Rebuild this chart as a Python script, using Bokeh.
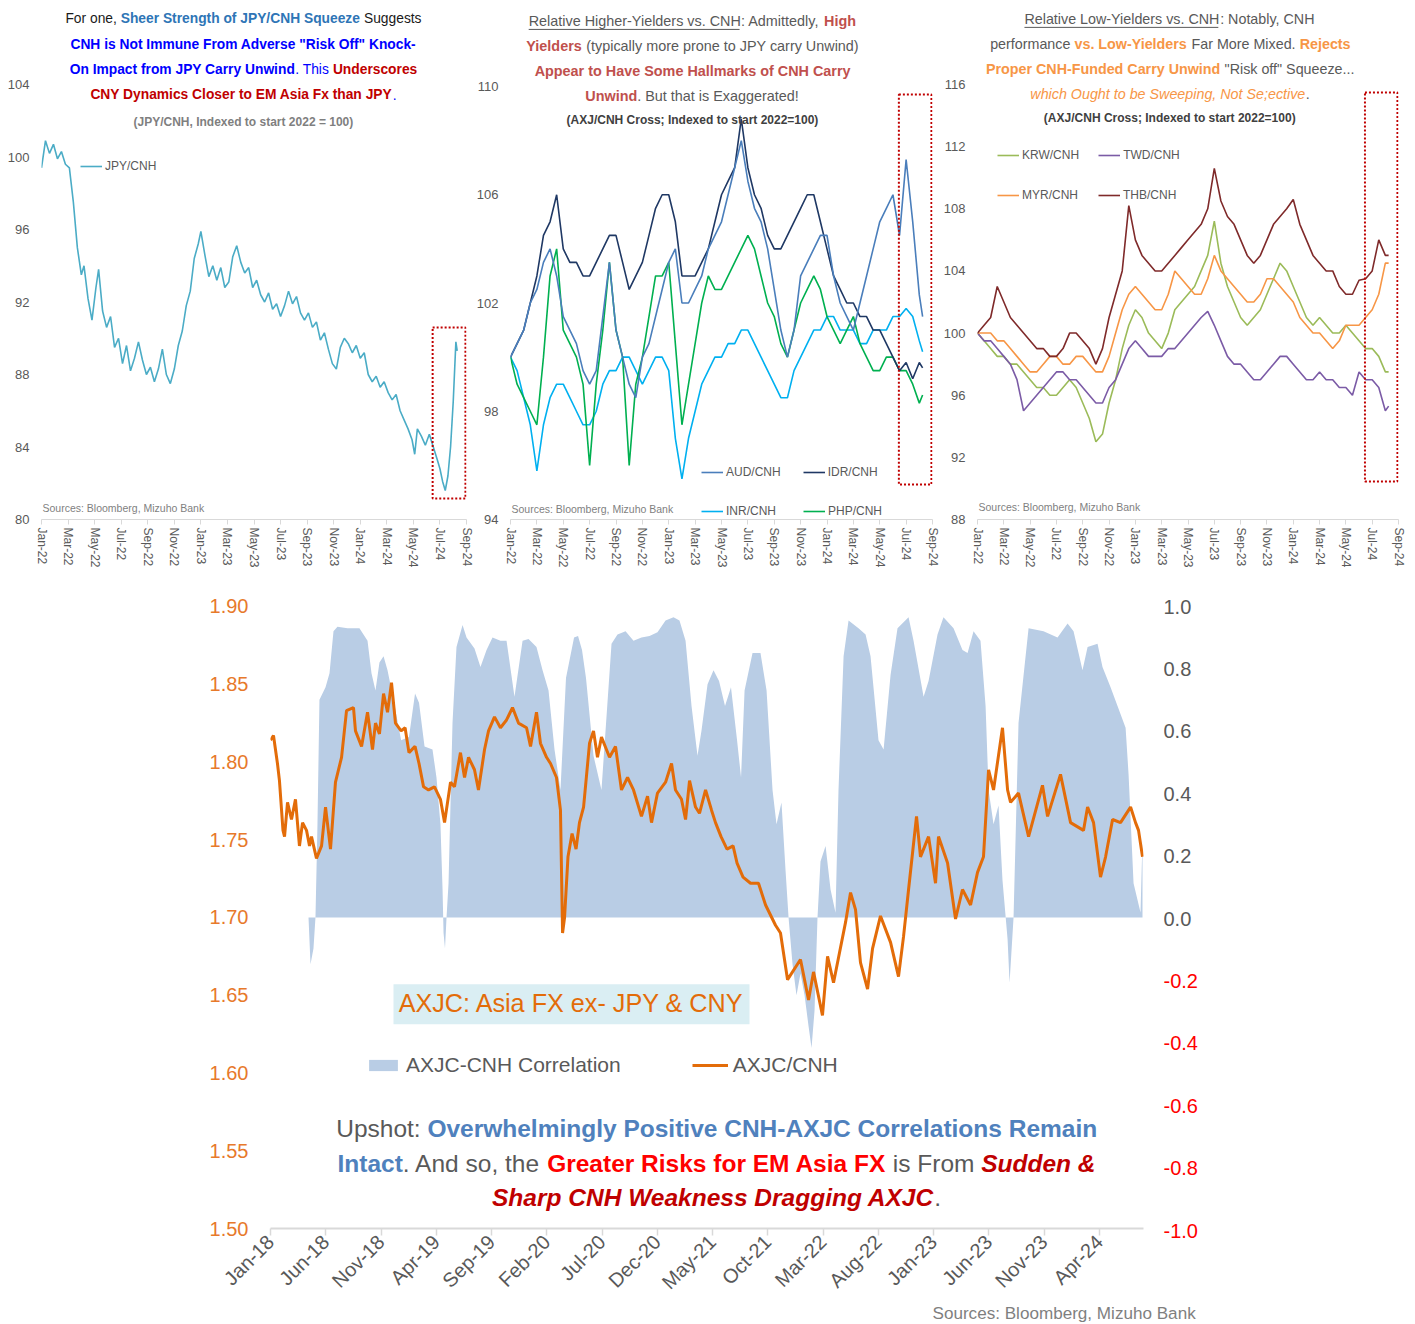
import math
from bokeh.plotting import figure
from bokeh.models import (Range1d, FixedTicker, Legend, LegendItem, BoxAnnotation,
                          Label, ColumnDataSource, NumeralTickFormatter)
from bokeh.layouts import row, column
from bokeh.embed import file_html
from bokeh.resources import INLINE
from bokeh.core.properties import value

FONT = "Liberation Sans"

# ---------------------------------------------------------------- data
top_month_labels = ["Jan-22", "Mar-22", "May-22", "Jul-22", "Sep-22", "Nov-22", "Jan-23", "Mar-23",
                    "May-23", "Jul-23", "Sep-23", "Nov-23", "Jan-24", "Mar-24", "May-24", "Jul-24", "Sep-24"]
bottom_month_labels = ["Jan-18", "Jun-18", "Nov-18", "Apr-19", "Sep-19", "Feb-20", "Jul-20", "Dec-20",
                       "May-21", "Oct-21", "Mar-22", "Aug-22", "Jan-23", "Jun-23", "Nov-23", "Apr-24"]

# months since Jan-2022
jpy_t = [0, 0.3, 0.6, 0.9, 1.2, 1.5, 1.8, 2.1, 2.4, 2.7, 3.0, 3.2, 3.5, 3.8, 4.1, 4.3, 4.6, 4.9, 5.2, 5.5,
         5.8, 6.1, 6.4, 6.7, 7.0, 7.3, 7.6, 7.9, 8.2, 8.5, 8.8, 9.1, 9.4, 9.7, 10.0, 10.3, 10.6, 10.9, 11.2,
         11.5, 11.8, 12.0, 12.3, 12.6, 12.9, 13.2, 13.5, 13.8, 14.1, 14.4, 14.7, 15.0, 15.3, 15.6, 15.9,
         16.2, 16.5, 16.8, 17.1, 17.4, 17.7, 18.0, 18.3, 18.6, 18.9, 19.2, 19.5, 19.8, 20.1, 20.4, 20.7,
         21.0, 21.3, 21.6, 21.9, 22.2, 22.5, 22.8, 23.1, 23.4, 23.7, 24.0, 24.3, 24.6, 24.9, 25.2, 25.5,
         25.8, 26.1, 26.4, 26.7, 27.0, 27.3, 27.6, 27.9, 28.1, 28.3, 28.6, 28.9, 29.2, 29.5, 29.8, 30.0,
         30.2, 30.4, 30.6, 30.8, 31.0, 31.2, 31.3]
jpy_v = [99.4, 100.9, 100.2, 100.7, 99.9, 100.3, 99.6, 99.4, 97.5, 95.0, 93.5, 94.0, 92.2, 91.0, 92.8, 93.8,
         91.5, 90.6, 91.2, 89.5, 90.0, 88.6, 89.6, 88.2, 88.9, 89.8, 88.8, 88.0, 88.4, 87.6, 88.3, 89.4,
         88.0, 87.5, 88.3, 89.6, 90.4, 91.8, 92.6, 94.4, 95.2, 95.9, 94.6, 93.4, 94.0, 93.2, 93.9, 92.8,
         93.1, 94.5, 95.1, 94.2, 93.6, 93.9, 92.8, 93.2, 92.4, 92.0, 92.5, 91.6, 91.9, 91.2, 91.8, 92.6,
         91.9, 92.3, 91.4, 91.0, 91.4, 90.6, 90.9, 89.9, 90.3, 89.4, 88.6, 88.3, 89.5, 90.0, 89.7, 89.2,
         89.6, 88.9, 89.2, 88.0, 87.6, 87.9, 87.3, 87.6, 87.0, 86.6, 86.9, 86.0, 85.5, 85.0, 84.4, 83.6,
         85.0, 84.6, 84.1, 84.7, 84.0, 83.3, 82.8, 82.1, 81.6, 82.4, 84.0, 86.5, 89.8, 89.3]

# half-monthly dates since Jan-2022 for the AXJ/CNH crosses
cross_t = [i / 2 for i in range(63)] + [31.25]
aud_v = [100.0, 100.5, 101.0, 102.0, 102.5, 103.5, 104.0, 103.0, 101.5, 101.0,
         100.5, 99.5, 99.0, 99.5, 101.5, 103.5, 101.0, 100.0, 99.0, 98.5,
         100.0, 100.5, 101.5, 102.5, 103.5, 104.0, 102.0, 102.0, 102.5, 103.0,
         104.0, 104.5, 105.0, 106.0, 107.0, 108.0, 106.5, 105.5, 105.0, 104.0,
         102.5, 101.0, 100.0, 101.0, 103.0, 103.5, 104.0, 104.5, 104.5, 103.0,
         102.0, 101.5, 101.0, 102.0, 103.0, 104.0, 105.0, 105.5, 106.0, 104.5,
         107.3, 105.0, 102.3, 101.5]
idr_v = [100.0, 100.5, 101.0, 102.0, 103.0, 104.5, 105.0, 106.0, 104.0, 103.5,
         103.5, 103.0, 103.0, 103.5, 104.0, 104.5, 104.5, 103.5, 102.5, 103.0,
         103.5, 104.5, 105.5, 106.0, 106.0, 105.0, 103.0, 103.0, 103.0, 103.5,
         104.0, 105.0, 106.0, 106.5, 107.0, 108.8, 107.0, 106.0, 105.5, 104.5,
         104.0, 104.0, 104.5, 105.0, 105.5, 106.0, 106.0, 105.0, 104.0, 103.0,
         102.5, 102.0, 102.0, 101.5, 101.5, 101.0, 101.0, 100.5, 100.0, 99.5,
         99.8, 99.2, 99.8, 99.6]
inr_v = [100.0, 99.5, 98.5, 97.5, 95.8, 97.5, 98.5, 99.0, 99.0, 98.5,
         98.0, 97.5, 97.5, 98.0, 99.0, 99.5, 99.5, 100.0, 100.0, 99.5,
         99.0, 99.5, 100.0, 100.0, 99.5, 97.0, 95.5, 97.0, 98.0, 99.0,
         99.5, 100.0, 100.0, 100.5, 100.5, 101.0, 101.0, 100.5, 100.0, 99.5,
         99.0, 98.5, 98.5, 99.5, 100.0, 100.5, 101.0, 101.0, 101.5, 101.5,
         101.0, 101.0, 101.0, 100.5, 100.5, 101.0, 101.0, 101.0, 101.5, 101.5,
         101.8, 101.5, 100.6, 100.2]
php_v = [100.0, 99.0, 98.5, 98.0, 97.5, 100.0, 103.0, 104.0, 101.0, 100.5,
         100.0, 99.0, 96.0, 99.0, 101.0, 103.5, 101.0, 100.0, 96.0, 99.0,
         100.0, 101.5, 103.0, 103.0, 103.5, 100.5, 97.5, 99.0, 100.5, 102.0,
         103.0, 102.5, 102.5, 103.0, 103.5, 104.0, 104.5, 104.0, 103.0, 102.0,
         101.5, 100.5, 100.0, 101.0, 102.0, 102.5, 103.0, 102.5, 101.5, 101.0,
         100.5, 101.0, 101.5, 100.5, 100.0, 99.5, 99.5, 100.0, 100.0, 99.5,
         99.5, 99.0, 98.3, 98.6]
krw_v = [100.0, 99.5, 99.0, 98.5, 98.5, 98.0, 98.0, 97.5, 97.0, 96.5,
         96.5, 96.0, 96.0, 96.5, 97.0, 96.5, 95.5, 94.5, 93.0, 93.5,
         95.5, 97.0, 99.0, 100.5, 101.5, 101.0, 100.0, 99.5, 99.0, 100.0,
         101.5, 102.0, 102.5, 103.0, 104.0, 105.0, 107.2, 104.5, 103.0, 102.0,
         101.0, 100.5, 101.0, 101.5, 102.5, 103.5, 104.5, 104.0, 103.0, 102.0,
         101.0, 100.5, 101.0, 100.5, 100.0, 100.0, 100.5, 100.0, 99.5, 99.0,
         99.0, 98.5, 97.5, 97.5]
twd_v = [100.0, 99.5, 99.5, 99.0, 98.5, 98.0, 97.0, 95.0, 95.5, 96.0,
         96.5, 97.0, 97.5, 97.5, 97.0, 97.0, 96.5, 96.0, 95.5, 95.5,
         96.5, 97.0, 98.0, 99.0, 99.5, 99.0, 98.5, 98.5, 98.5, 99.0,
         99.0, 99.5, 100.0, 100.5, 101.0, 101.4, 100.5, 99.5, 98.5, 98.0,
         98.0, 97.5, 97.0, 97.0, 97.5, 98.0, 98.5, 98.5, 98.0, 97.5,
         97.0, 97.0, 97.5, 97.0, 97.0, 96.5, 96.5, 96.0, 97.5, 97.0,
         97.0, 96.5, 95.0, 95.3]
myr_v = [100.0, 100.0, 100.0, 99.5, 99.5, 99.0, 98.5, 98.0, 97.5, 97.5,
         98.0, 98.5, 98.5, 98.0, 98.0, 98.5, 98.5, 98.0, 97.5, 97.5,
         98.5, 100.0, 101.5, 102.5, 103.0, 102.5, 102.0, 101.5, 101.5, 102.5,
         104.0, 103.5, 103.0, 102.5, 102.5, 103.5, 105.0, 104.0, 103.5, 103.0,
         102.5, 102.0, 102.0, 102.5, 103.5, 103.5, 103.0, 102.5, 102.0, 101.0,
         100.5, 100.0, 100.0, 99.5, 99.0, 99.5, 100.5, 100.5, 100.5, 101.0,
         101.5, 102.5, 104.5, 104.5]
thb_v = [100.0, 100.5, 101.0, 103.0, 102.0, 101.0, 100.5, 100.0, 99.5, 99.0,
         99.0, 98.5, 98.5, 99.0, 100.0, 100.0, 99.5, 99.0, 98.0, 99.0,
         101.0, 102.5, 104.0, 108.2, 106.0, 105.0, 104.5, 104.0, 104.0, 104.5,
         105.0, 105.5, 106.0, 106.5, 107.0, 108.0, 110.6, 108.5, 107.5, 107.0,
         106.0, 105.0, 104.5, 105.0, 106.0, 107.0, 107.5, 108.0, 108.6, 107.0,
         106.0, 105.0, 104.5, 104.0, 104.0, 103.0, 102.5, 102.5, 103.4, 103.5,
         104.0, 106.0, 105.0, 105.0]

# months since Jan-2018
axjc_t = [0.00, 0.27, 0.63, 0.81, 1.13, 1.27, 1.54, 1.90, 2.26, 2.62, 2.90, 3.26, 3.53, 3.71, 4.16, 4.62,
          4.98, 5.43, 5.88, 6.43, 6.88, 7.51, 7.69, 8.24, 8.78, 9.23, 9.50, 9.86, 10.23, 10.59, 10.95,
          11.31, 11.82, 12.18, 12.53, 13.08, 13.44, 13.85, 14.30, 14.84, 15.38, 15.75, 16.29, 16.65,
          17.19, 17.56, 17.92, 18.46, 18.82, 19.37, 19.73, 20.27, 20.81, 21.36, 21.90, 22.44, 23.17,
          23.53, 24.07, 24.43, 24.98, 25.34, 25.88, 26.24, 26.43, 26.61, 26.92, 27.29, 27.65, 27.96,
          28.33, 28.87, 29.23, 29.59, 29.95, 30.68, 31.22, 31.76, 32.31, 32.85, 33.57, 34.12, 34.48,
          35.02, 35.75, 36.29, 36.65, 37.19, 37.56, 37.92, 38.46, 38.82, 39.37, 39.91, 40.27, 40.77,
          41.31, 41.86, 42.22, 42.76, 43.44, 44.16, 44.80, 45.70, 46.15, 46.79, 47.96, 48.69, 49.14,
          49.95, 50.41, 50.95, 52.04, 52.49, 52.94, 53.39, 54.03, 54.48, 55.20, 56.11, 56.83, 57.29,
          57.74, 58.46, 58.82, 59.55, 60.18, 60.45, 61.27, 61.99, 62.62, 63.35, 63.98, 64.52, 64.98,
          65.43, 66.24, 66.70, 66.97, 67.69, 68.60, 69.86, 70.32, 71.49, 72.40, 73.57, 73.94, 74.48,
          75.11, 75.57, 76.20, 76.92, 77.83, 78.28, 78.55, 78.91]
axjc_v = [1.814, 1.817, 1.799, 1.788, 1.756, 1.752, 1.774, 1.763, 1.776, 1.746, 1.761, 1.756, 1.746, 1.752,
          1.738, 1.746, 1.771, 1.744, 1.787, 1.803, 1.833, 1.835, 1.820, 1.810, 1.832, 1.808, 1.825,
          1.818, 1.844, 1.832, 1.851, 1.825, 1.820, 1.822, 1.806, 1.810, 1.799, 1.784, 1.782, 1.784,
          1.776, 1.761, 1.787, 1.784, 1.806, 1.790, 1.803, 1.795, 1.782, 1.808, 1.820, 1.829, 1.822,
          1.827, 1.835, 1.825, 1.822, 1.810, 1.832, 1.812, 1.803, 1.799, 1.790, 1.769, 1.690, 1.700,
          1.739, 1.754, 1.744, 1.761, 1.771, 1.812, 1.820, 1.803, 1.816, 1.803, 1.810, 1.782, 1.790,
          1.782, 1.765, 1.778, 1.761, 1.780, 1.787, 1.799, 1.782, 1.776, 1.763, 1.788, 1.771, 1.767,
          1.782, 1.769, 1.761, 1.752, 1.744, 1.746, 1.735, 1.726, 1.722, 1.722, 1.708, 1.695, 1.690,
          1.660, 1.673, 1.647, 1.665, 1.637, 1.675, 1.658, 1.697, 1.716, 1.705, 1.671, 1.654, 1.680,
          1.701, 1.684, 1.662, 1.688, 1.718, 1.765, 1.739, 1.752, 1.722, 1.752, 1.735, 1.699, 1.718,
          1.708, 1.729, 1.739, 1.795, 1.782, 1.822, 1.782, 1.774, 1.780, 1.752, 1.785, 1.765, 1.792,
          1.761, 1.756, 1.771, 1.761, 1.726, 1.739, 1.763, 1.761, 1.771, 1.761, 1.756, 1.739]

corr_t = [3.44, 3.62, 3.89, 4.07, 4.25, 4.43, 4.98, 5.34, 5.70, 6.06, 6.97, 8.05, 8.78, 9.14, 9.50, 9.86,
          10.23, 10.59, 11.13, 11.82, 12.53, 13.08, 13.44, 13.94, 14.66, 15.02, 15.38, 15.57, 15.66,
          15.79, 15.93, 16.11, 16.47, 16.83, 17.38, 17.74, 18.46, 19.00, 19.55, 20.09, 20.81, 21.36,
          22.08, 22.81, 23.35, 24.07, 24.62, 25.16, 25.70, 26.24, 26.74, 27.47, 27.83, 28.19, 28.55,
          29.23, 29.95, 30.86, 31.40, 32.13, 32.85, 33.57, 34.30, 35.02, 35.75, 36.47, 37.01, 37.56,
          38.10, 38.64, 39.00, 39.55, 40.09, 40.59, 41.13, 41.67, 42.22, 42.58, 42.90, 43.62, 44.34,
          44.89, 45.43, 45.79, 46.24, 46.61, 46.88, 47.24, 47.60, 47.96, 48.33, 48.69, 48.96, 49.23,
          49.50, 49.77, 50.23, 50.68, 51.13, 51.40, 51.86, 52.31, 53.21, 53.85, 54.30, 55.02, 55.48,
          56.11, 56.74, 57.74, 58.19, 59.10, 59.55, 60.36, 60.90, 61.81, 62.62, 63.08, 63.62, 64.25,
          64.71, 64.98, 65.43, 65.88, 66.24, 66.70, 66.88, 67.24, 67.69, 68.33, 68.60, 69.95, 71.22,
          72.13, 72.67, 73.48, 73.94, 74.84, 75.29, 76.02, 76.65, 77.38, 77.65, 78.10, 78.73, 78.91]
corr_v = [0.0, -0.15, -0.10, 0.0, 0.30, 0.70, 0.74, 0.785, 0.92, 0.935, 0.93, 0.93, 0.89, 0.785, 0.73,
          0.82, 0.84, 0.795, 0.70, 0.57, 0.58, 0.72, 0.69, 0.55, 0.54, 0.45, 0.30, 0.09, -0.05, -0.10,
          0.0, 0.11, 0.625, 0.87, 0.94, 0.90, 0.865, 0.805, 0.86, 0.90, 0.89, 0.89, 0.71, 0.89, 0.895,
          0.87, 0.795, 0.73, 0.54, 0.41, 0.77, 0.90, 0.905, 0.86, 0.77, 0.52, 0.41, 0.88, 0.91, 0.92,
          0.89, 0.90, 0.905, 0.917, 0.955, 0.965, 0.955, 0.89, 0.68, 0.52, 0.60, 0.75, 0.795, 0.76, 0.68,
          0.74, 0.57, 0.45, 0.73, 0.85, 0.85, 0.73, 0.41, 0.30, 0.37, 0.15, 0.0, -0.15, -0.25, -0.18,
          -0.25, -0.35, -0.42, -0.30, 0.0, 0.18, 0.23, 0.09, 0.015, 0.41, 0.84, 0.955, 0.93, 0.91, 0.84,
          0.57, 0.54, 0.78, 0.93, 0.965, 0.89, 0.71, 0.76, 0.91, 0.965, 0.93, 0.86, 0.85, 0.92, 0.89,
          0.68, 0.41, 0.30, 0.36, 0.12, -0.07, -0.21, 0.0, 0.625, 0.84, 0.93, 0.92, 0.90, 0.945, 0.92,
          0.795, 0.87, 0.88, 0.805, 0.74, 0.68, 0.61, 0.46, 0.11, 0.016, 0.25]

corr_axis_ticks = [1.0, 0.8, 0.6, 0.4, 0.2, 0.0, -0.2, -0.4, -0.6, -0.8, -1.0]
axjc_axis_ticks = [1.50, 1.55, 1.60, 1.65, 1.70, 1.75, 1.80, 1.85, 1.90]

highlight_months = (29.45, 31.92)   # the Jul-24 / Aug-24 squeeze window

# ---------------------------------------------------------------- text metrics (Arial / Liberation Sans)
def _table(upper, lower, extra):
    d = dict(zip("ABCDEFGHIJKLMNOPQRSTUVWXYZ", upper))
    d.update(zip("abcdefghijklmnopqrstuvwxyz", lower))
    d.update({str(i): 556 for i in range(10)})
    d.update(extra)
    return d

REG = _table([667, 667, 722, 722, 667, 611, 778, 722, 278, 500, 667, 556, 833, 722, 778, 667, 778, 722, 667, 611, 722, 667, 944, 667, 667, 611],
             [556, 556, 500, 556, 556, 278, 556, 556, 222, 222, 500, 222, 833, 556, 556, 556, 556, 333, 500, 278, 556, 500, 722, 500, 500, 500],
             {' ': 278, '!': 278, '"': 355, '&': 667, "'": 191, '(': 333, ')': 333, ',': 278, '-': 333, '.': 278,
              '/': 278, ':': 278, ';': 278, '=': 584, '?': 556})
BOLD = _table([722, 722, 722, 722, 667, 611, 778, 722, 278, 556, 722, 611, 833, 722, 778, 667, 778, 722, 667, 611, 722, 667, 944, 667, 667, 611],
              [556, 611, 556, 611, 556, 333, 611, 611, 278, 278, 556, 278, 889, 611, 611, 611, 611, 389, 556, 333, 611, 556, 778, 556, 556, 500],
              {' ': 278, '!': 333, '"': 474, '&': 722, "'": 238, '(': 333, ')': 333, ',': 278, '-': 333, '.': 278,
               '/': 278, ':': 333, ';': 333, '=': 584, '?': 611})


def tw(text, style="normal"):
    tab = BOLD if "bold" in style else REG
    return sum(tab.get(ch, 556) for ch in text) / 1000.0


class Geo:
    """maps page pixels to data coordinates of a figure's frame"""
    def __init__(s, fl, ft, fw, fh, xr, yr):
        s.fl, s.ft, s.fw, s.fh = fl, ft, fw, fh
        s.x0, s.x1 = xr
        s.y0, s.y1 = yr

    def x(s, px):
        return s.x0 + (px - s.fl) * (s.x1 - s.x0) / s.fw

    def y(s, py):
        return s.y1 - (py - s.ft) * (s.y1 - s.y0) / s.fh


def rich_text(p, geo, cx, blocks):
    d = dict(x=[], y=[], t=[], xo=[], seg_color=[], seg_style=[], seg_size=[])
    ul = dict(x0=[], x1=[], y=[], ucol=[])
    for lines in blocks:
        fits = [tgt / sum(tw(s[0], s[2]) for s in segs) for cy, tgt, segs in lines]
        fs = sum(fits) / len(fits)
        for cy, tgt, segs in lines:
            total = sum(tw(s[0], s[2]) for s in segs) * fs
            start = cx - total / 2
            off = 0.0
            for s in segs:
                txt, col, sty = s[0], s[1], s[2]
                w = tw(txt, sty) * fs
                stripped = txt.strip(" ")
                lead = tw(txt[:len(txt) - len(txt.lstrip(" "))], sty) * fs
                if stripped:
                    d["x"].append(geo.x(start)); d["y"].append(geo.y(cy))
                    d["t"].append(stripped); d["xo"].append(off + lead)
                    d["seg_color"].append(col); d["seg_style"].append(sty)
                    d["seg_size"].append("%.1fpx" % fs)
                if len(s) > 3 and s[3]:
                    ul["x0"].append(geo.x(start + off)); ul["x1"].append(geo.x(start + off + w))
                    ul["y"].append(geo.y(cy + 0.62 * fs)); ul["ucol"].append(col)
                off += w
    p.text(x="x", y="y", text="t", x_offset="xo", source=ColumnDataSource(d), text_color="seg_color",
           text_font_style="seg_style", text_font_size="seg_size", text_font=value(FONT),
           text_align="left", text_baseline="middle")
    if ul["x0"]:
        p.segment(x0="x0", y0="y", x1="x1", y1="y", source=ColumnDataSource(ul), line_color="ucol", line_width=1)


def legend_row(p, items, vx, vy, col2_gap, size=12, glyph_w=22, glyph_h=14, label_h=14, standoff=3):
    first = items[0][0]
    spacing = int(round(col2_gap - (glyph_w + standoff + tw(first) * size)))
    leg = Legend(items=[LegendItem(label=l, renderers=[r]) for l, r in items], location=(vx, vy),
                 orientation="horizontal", glyph_width=glyph_w, glyph_height=glyph_h, label_height=label_h,
                 label_standoff=standoff, spacing=spacing, padding=0, margin=0, border_line_color=None,
                 background_fill_alpha=0, label_text_font=FONT, label_text_font_size="%.1fpx" % size,
                 label_text_color="#595959")
    p.add_layout(leg)


GRAY = "#595959"
TOP_H = 590          # page rows 0..590
FRAME_TOP = 8
FRAME_BOTTOM = 519


def top_fig(width, bl, br, yr, yticks):
    p = figure(width=width, height=TOP_H, x_range=Range1d(0, 32), y_range=Range1d(*yr),
               output_backend="svg", toolbar_location=None, min_border_left=bl, min_border_right=br,
               min_border_top=FRAME_TOP, min_border_bottom=TOP_H - FRAME_BOTTOM)
    p.outline_line_color = None
    p.xgrid.visible = False
    p.ygrid.visible = False
    xa = p.xaxis[0]
    xa.ticker = FixedTicker(ticks=list(range(0, 33, 2)))
    xa.major_label_overrides = {2 * i: lab for i, lab in enumerate(top_month_labels)}
    xa.major_label_orientation = "vertical"
    xa.axis_line_color = "#D9D9D9"
    xa.major_tick_line_color = "#D9D9D9"
    xa.major_tick_out = 5
    xa.major_tick_in = 0
    xa.minor_tick_line_color = None
    xa.major_label_standoff = 3
    xa.major_label_text_font = FONT
    xa.major_label_text_font_size = "12px"
    xa.major_label_text_color = GRAY
    ya = p.yaxis[0]
    ya.ticker = FixedTicker(ticks=yticks)
    ya.axis_line_color = None
    ya.major_tick_line_color = None
    ya.major_tick_out = 0
    ya.major_tick_in = 0
    ya.minor_tick_line_color = None
    ya.major_label_standoff = 12
    ya.major_label_text_font = FONT
    ya.major_label_text_font_size = "13px"
    ya.major_label_text_color = GRAY
    return p


def sources(p, geo, px, py):
    p.add_layout(Label(x=geo.x(px), y=geo.y(py), text="Sources: Bloomberg, Mizuho Bank", text_font=FONT,
                       text_font_size="10.5px", text_color="#7F7F7F", text_baseline="middle"))


def red_box(p, top, bottom):
    p.add_layout(BoxAnnotation(left=highlight_months[0], right=highlight_months[1], top=top, bottom=bottom,
                               fill_alpha=0, line_color="#C00000", line_alpha=1.0, line_width=2,
                               line_dash="2 2"))


FH_TOP = FRAME_BOTTOM - FRAME_TOP

# ---------------------------------------------------------------- panel 1 (page x 0..473)
y1 = (80, 80 + FH_TOP / 18.125)
p1 = top_fig(473, 41, 7, y1, [80, 84, 88, 92, 96, 100, 104])
g1 = Geo(41, FRAME_TOP, 425, FH_TOP, (0, 32), y1)
r_jpy = p1.line(jpy_t, jpy_v, line_color="#4BACC6", line_width=1.6)
red_box(p1, g1.y(327), g1.y(498))
legend_row(p1, [("JPY/CNH", r_jpy)], 39, FRAME_BOTTOM - 173, 100)
B1 = "#2E75B6"; B2 = "#0000FF"; DR = "#C00000"
rich_text(p1, g1, 243, [
    [(18, 356, [("For one, ", "#1A1A1A", "normal"), ("Sheer Strength of JPY/CNH Squeeze", B1, "bold"),
                (" Suggests", "#1A1A1A", "normal")]),
     (44, 350, [('CNH is Not Immune From Adverse "Risk Off" Knock-', B2, "bold")]),
     (69, 351, [("On Impact from JPY Carry Unwind", B2, "bold"), (". This ", B2, "normal"),
                ("Underscores", DR, "bold")]),
     (94, 300, [("CNY Dynamics Closer to EM Asia Fx than JPY", DR, "bold"), (".", B2, "normal")])],
    [(121, 220, [("(JPY/CNH, Indexed to start 2022 = 100)", "#7F7F7F", "bold")])],
])
sources(p1, g1, 42, 507)

# ---------------------------------------------------------------- panel 2 (page x 473..940)
y2 = (94, 94 + FH_TOP / (433 / 16))
p2 = top_fig(467, 34, 8, y2, [94, 98, 102, 106, 110])
g2 = Geo(507, FRAME_TOP, 425, FH_TOP, (0, 32), y2)
r_inr = p2.line(cross_t, inr_v, line_color="#00B0F0", line_width=1.6)
r_php = p2.line(cross_t, php_v, line_color="#00B050", line_width=1.6)
r_idr = p2.line(cross_t, idr_v, line_color="#1F3864", line_width=1.6)
r_aud = p2.line(cross_t, aud_v, line_color="#4A7EBB", line_width=1.6)
red_box(p2, g2.y(94), g2.y(484))
legend_row(p2, [("AUD/CNH", r_aud), ("IDR/CNH", r_idr)], 191, FRAME_BOTTOM - 479, 102)
legend_row(p2, [("INR/CNH", r_inr), ("PHP/CNH", r_php)], 191, FRAME_BOTTOM - 518, 102)
RR = "#C0504D"
rich_text(p2, g2, 689, [
    [(20, 328, [("Relative Higher-Yielders vs. CNH", GRAY, "normal", True), (": Admittedly, ", GRAY, "normal"),
                ("High", RR, "bold")]),
     (45, 336, [("Yielders", RR, "bold"), (" (typically more prone to JPY carry Unwind)", GRAY, "normal")]),
     (70, 307, [("Appear to Have Some Hallmarks of CNH Carry", RR, "bold")]),
     (95, 216, [("Unwind", RR, "bold"), (". But that is Exaggerated!", GRAY, "normal")])],
    [(119, 251, [("(AXJ/CNH Cross; Indexed to start 2022=100)", "#404040", "bold")])],
])
sources(p2, g2, 508, 508)

# ---------------------------------------------------------------- panel 3 (page x 940..1407)
y3 = (88, 88 + FH_TOP / (435 / 28))
p3 = top_fig(467, 33, 9, y3, [88, 92, 96, 100, 104, 108, 112, 116])
g3 = Geo(973, FRAME_TOP, 425, FH_TOP, (0, 32), y3)
r_krw = p3.line(cross_t, krw_v, line_color="#9BBB59", line_width=1.6)
r_twd = p3.line(cross_t, twd_v, line_color="#7B5BA6", line_width=1.6)
r_myr = p3.line(cross_t, myr_v, line_color="#F79646", line_width=1.6)
r_thb = p3.line(cross_t, thb_v, line_color="#7F2A2A", line_width=1.6)
red_box(p3, g3.y(92), g3.y(481))
legend_row(p3, [("KRW/CNH", r_krw), ("TWD/CNH", r_twd)], 20, FRAME_BOTTOM - 162, 101)
legend_row(p3, [("MYR/CNH", r_myr), ("THB/CNH", r_thb)], 20, FRAME_BOTTOM - 202, 101)
OR = "#F79646"
rich_text(p3, g3, 1166, [
    [(18, 288, [("Relative Low-Yielders vs. CNH", GRAY, "normal", True), (": Notably, CNH", GRAY, "normal")]),
     (43, 361, [("performance ", GRAY, "normal"), ("vs. Low-Yielders", OR, "bold"),
                (" Far More Mixed. ", GRAY, "normal"), ("Rejects", OR, "bold")]),
     (68, 365, [("Proper CNH-Funded Carry Unwind", OR, "bold"), (' "Risk off" Squeeze...', GRAY, "normal")]),
     (93, 285, [("which Ought to be Sweeping, Not Se;ective", OR, "italic"), (".", GRAY, "normal")])],
    [(117, 252, [("(AXJ/CNH Cross; Indexed to start 2022=100)", "#404040", "bold")])],
])
sources(p3, g3, 974, 506)

# ---------------------------------------------------------------- bottom chart (page y 590..1304)
BTOP = 590
FL, FT, FW, FH = 270, 590, 873, 640
BW = FL + FW + 20            # main chart ends where the right-hand labels begin (page x 1163)
BH = 714
X_END = 79.0
yb = (1.50, 1.90 + 16 / 1560)
yc = (-1.0, 1.0 + 16 / 312)
p4 = figure(width=BW, height=BH, x_range=Range1d(0, X_END), y_range=Range1d(*yb), output_backend="svg",
            toolbar_location=None, min_border_left=FL, min_border_right=BW - FL - FW,
            min_border_top=FT - BTOP, min_border_bottom=BH - FH - (FT - BTOP))
p4.extra_y_ranges = {"corr": Range1d(*yc)}
p4.outline_line_color = None
p4.xgrid.visible = False
p4.ygrid.visible = False
g4 = Geo(FL, FT, FW, FH, (0, X_END), yb)

r_corr = p4.varea(x=corr_t, y1=[0.0] * len(corr_t), y2=corr_v, y_range_name="corr", fill_color="#B9CDE5")
r_axjc = p4.line(axjc_t, axjc_v, line_color="#E36C09", line_width=3)

xa = p4.xaxis[0]
xa.ticker = FixedTicker(ticks=list(range(0, 76, 5)))
xa.major_label_overrides = {5 * i: lab for i, lab in enumerate(bottom_month_labels)}
xa.major_label_orientation = math.pi / 4
xa.axis_line_color = "#D9D9D9"
xa.axis_line_width = 2
xa.major_tick_line_color = "#D9D9D9"
xa.major_tick_line_width = 1.5
xa.major_tick_out = 7
xa.major_tick_in = 0
xa.minor_tick_line_color = None
xa.major_label_standoff = 3
xa.major_label_text_font = FONT
xa.major_label_text_font_size = "20px"
xa.major_label_text_color = GRAY

ya = p4.yaxis[0]
ya.ticker = FixedTicker(ticks=axjc_axis_ticks)
ya.formatter = NumeralTickFormatter(format="0.00")
ya.axis_line_color = None
ya.major_tick_line_color = None
ya.major_tick_out = 0
ya.major_tick_in = 0
ya.minor_tick_line_color = None
ya.major_label_standoff = 22
ya.major_label_text_font = FONT
ya.major_label_text_font_size = "20px"
ya.major_label_text_color = "#E7792B"

# AXJC box
p4.add_layout(BoxAnnotation(left=g4.x(393), right=g4.x(749), top=g4.y(985), bottom=g4.y(1025),
                            fill_color="#DAEEF3", fill_alpha=1, line_color=None))
box_txt = "AXJC: Asia FX ex- JPY & CNY"
p4.add_layout(Label(x=g4.x(571), y=g4.y(1004), text=box_txt, text_font=FONT,
                    text_font_size="%.1fpx" % (346 / tw(box_txt)), text_color="#E36C09",
                    text_align="center", text_baseline="middle"))

legend_row(p4, [("AXJC-CNH Correlation", r_corr), ("AXJC/CNH", r_axjc)], 95, FT + FH - 1079, 327,
           size=21, glyph_w=36, glyph_h=14, label_h=20, standoff=5)

BL = "#4F81BD"
rich_text(p4, g4, 716, [
    [(1130, 766, [("Upshot: ", GRAY, "normal"),
                  ("Overwhelmingly Positive CNH-AXJC Correlations Remain", BL, "bold")]),
     (1165, 766, [("Intact", BL, "bold"), (". And so, the ", GRAY, "normal"),
                  ("Greater Risks for EM Asia FX", "#FF0000", "bold"), (" is From ", GRAY, "normal"),
                  ("Sudden &", "#C00000", "bold italic")]),
     (1199, 441, [("Sharp CNH Weakness Dragging AXJC", "#C00000", "bold italic"), (".", GRAY, "normal")])],
])

# right-hand correlation scale (its own strip so the labels are not clipped by the chart frame)
SW = 1407 - BW
side = figure(width=SW, height=BH, x_range=Range1d(0, SW),
              y_range=Range1d(yc[1] - BH * (yc[1] - yc[0]) / FH, yc[1]),
              output_backend="svg", toolbar_location=None, x_axis_location=None, y_axis_location=None,
              min_border_left=0, min_border_right=0, min_border_top=0, min_border_bottom=0)
side.frame_align = False
side.outline_line_color = None
side.grid.visible = False
side.text(x=[0] * len(corr_axis_ticks), y=corr_axis_ticks, text=["%.1f" % v for v in corr_axis_ticks],
          text_color=[GRAY if v >= 0 else "#FF0000" for v in corr_axis_ticks], text_font=value(FONT),
          text_font_size="20px", text_baseline="middle", text_align="left")

# footer with the source note
FOOT_H = 18
foot = figure(width=1407, height=FOOT_H, x_range=Range1d(0, 1407), y_range=Range1d(0, FOOT_H),
              output_backend="svg", toolbar_location=None, x_axis_location=None, y_axis_location=None,
              min_border_left=0, min_border_right=0, min_border_top=0, min_border_bottom=0)
foot.frame_align = False
foot.outline_line_color = None
foot.grid.visible = False
src_txt = "Sources: Bloomberg, Mizuho Bank"
foot.text(x=[932], y=[FOOT_H / 2], text=[src_txt], text_color="#7F7F7F", text_font=value(FONT),
          text_font_size="%.1fpx" % (263 / tw(src_txt)), text_baseline="middle", text_align="left")

layout = column(row(p1, p2, p3), row(p4, side), foot)
open("out.html", "w").write(file_html(layout, INLINE))
